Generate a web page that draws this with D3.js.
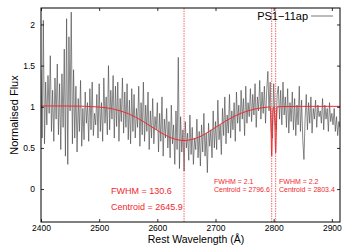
<!DOCTYPE html>
<html>
<head>
<meta charset="utf-8">
<script src="https://cdn.jsdelivr.net/npm/d3@7"></script>
<style>
  body { margin: 0; background: #fff; }
  text { font-family: "Liberation Sans", Arial, sans-serif; }
</style>
</head>
<body>
<div id="chart"></div>
<script>
(function(d3) {
  'use strict';

  // spectrum: flux sampled every 2 A starting at 2400 A
  var waveStart = 2400;
  var waveStep = 2;
  var flux = [
    1.45, 0.62, 2.05, 0.55, 1.30, 0.78, 1.38, 0.92, 1.62, 0.70,
    1.20, 0.58, 1.35, 0.85, 1.52, 0.66, 1.28, 0.48, 1.40, 0.75,
    1.70, 0.40, 2.07, 0.30, 1.85, 0.95, 2.15, 0.55, 1.45, 0.62,
    1.25, 0.45, 1.10, 0.70, 1.32, 0.52, 0.98, 0.60, 1.18, 0.80,
    1.05, 0.58, 1.22, 0.72, 1.30, 0.65, 0.92, 0.78, 1.15, 0.62,
    1.28, 0.70, 1.05, 0.58, 1.35, 0.80, 1.12, 0.66, 1.50, 0.72,
    1.20, 0.85, 1.38, 0.62, 1.25, 0.76, 1.30, 0.58, 1.10, 0.82,
    1.35, 0.68, 1.18, 0.75, 1.28, 0.60, 1.08, 0.55, 1.22, 0.70,
    1.15, 0.62, 0.98, 0.75, 1.25, 0.52, 1.05, 0.66, 1.30, 0.58,
    1.02, 0.70, 1.18, 0.48, 0.95, 0.62, 1.10, 0.55, 0.88, 0.72,
    1.05, 0.45, 0.92, 0.58, 1.12, 0.40, 0.85, 0.62, 0.98, 0.50,
    0.82, 0.38, 1.02, 0.55, 0.78, 0.30, 0.95, 0.48, 1.60, 0.25,
    0.88, 0.45, 0.72, 0.22, 0.82, 0.50, 0.68, 0.35, 0.90, 0.42,
    0.75, 0.30, 0.62, 0.48, 0.85, 0.38, 0.70, 0.28, 0.78, 0.45,
    0.92, 0.40, 0.68, 0.20, 0.80, 0.52, 0.72, 0.38, 0.95, 0.50,
    0.82, 0.48, 1.08, 0.60, 0.78, 0.42, 0.98, 0.65, 1.12, 0.55,
    0.90, 0.68, 1.15, 0.62, 0.95, 0.72, 1.05, 0.58, 1.18, 0.80,
    1.02, 0.70, 1.20, 0.85, 1.10, 0.65, 1.25, 0.80, 1.05, 0.88,
    1.22, 0.82, 1.15, 0.90, 1.28, 0.75, 1.12, 0.95, 1.32, 0.85,
    1.18, 0.92, 1.25, 0.80, 1.20, 1.43, 0.95, 1.30, 0.70, 0.62,
    1.28, 0.88, 0.72, 1.15, 1.25, 0.85, 1.20, 0.78, 1.30, 0.90,
    1.12, 0.75, 1.22, 0.68, 1.05, 0.82, 1.18, 0.72, 1.10, 0.65,
    1.02, 0.78, 1.25, 0.70, 1.08, 0.60, 0.36, 0.85, 1.15, 0.72,
    1.05, 0.80, 1.12, 0.68, 0.98, 0.85, 1.08, 0.75, 1.02, 0.88,
    0.95, 0.80, 1.10, 0.72, 1.02, 0.85, 0.98, 0.70, 1.05, 0.82,
    0.92, 0.78, 0.98, 0.70, 0.88, 0.65, 0.82, 0.75
  ];

  // fitted model
  var modelWave = [2400, 2450, 2500, 2525, 2550, 2575, 2600, 2625, 2646, 2670,
    2695, 2720, 2745, 2770, 2790, 2794, 2795.5, 2796.6, 2797.7, 2799, 2800,
    2801.5, 2802.2, 2803.4, 2804.6, 2806, 2850, 2914];
  var modelFlux = [1.01, 1.009, 0.997, 0.971, 0.916, 0.825, 0.712, 0.619, 0.59, 0.627,
    0.726, 0.838, 0.924, 0.976, 0.996, 1.0, 0.72, 0.40, 0.72, 0.98, 1.0,
    0.92, 0.72, 0.44, 0.72, 1.0, 1.005, 1.005];

  var lineCentres = [2645.9, 2796.6, 2803.4];
  var fitLabels = [
    ['FWHM = 130.6', 'Centroid = 2645.9'],
    ['FWHM = 2.1', 'Centroid = 2796.6'],
    ['FWHM = 2.2', 'Centroid = 2803.4']
  ];
  var xTicks = [2400, 2500, 2600, 2700, 2800, 2900];
  var yTicks = [0, 0.5, 1, 1.5, 2];
  var seriesName = 'PS1\u221211ap';

  var width = 350;
  var height = 245;
  var margin = {top: 8, right: 10, bottom: 23, left: 41};
  var w = width - margin.left - margin.right;
  var h = height - margin.top - margin.bottom;
  var red = '#f0282d';

  var x = d3.scaleLinear().domain([2400, 2914]).range([0, w]);
  var y = d3.scaleLinear().domain([-0.4, 2.2]).range([h, 0]);

  var svg = d3.select('#chart')
    .append('svg')
    .attr('width', width)
    .attr('height', height)
    .append('g')
    .attr('transform', 'translate(' + margin.left + ',' + margin.top + ')');

  svg.append('clipPath').attr('id', 'clip')
    .append('rect').attr('width', w).attr('height', h);

  var spec = flux.map(function(f, i) {
    return {w: waveStart + i * waveStep, f: f};
  });

  var line = d3.line()
    .x(function(d) { return x(d.w); })
    .y(function(d) { return y(d.f); });

  svg.append('path')
    .datum(spec)
    .attr('clip-path', 'url(#clip)')
    .attr('fill', 'none')
    .attr('stroke', '#4a4a4a')
    .attr('stroke-width', 0.65)
    .attr('d', line);

  // vertical markers at the fitted centroids
  svg.selectAll('.centre')
    .data(lineCentres)
    .enter()
    .append('line')
    .attr('class', 'centre')
    .attr('x1', function(d) { return x(d); })
    .attr('x2', function(d) { return x(d); })
    .attr('y1', 0)
    .attr('y2', h)
    .attr('stroke', red)
    .attr('stroke-opacity', 0.7)
    .attr('stroke-width', 1)
    .attr('stroke-dasharray', '1.5,1');

  var model = modelWave.map(function(d, i) { return {w: d, f: modelFlux[i]}; });
  svg.append('path')
    .datum(model)
    .attr('clip-path', 'url(#clip)')
    .attr('fill', 'none')
    .attr('stroke', red)
    .attr('stroke-width', 1)
    .attr('d', line.curve(d3.curveMonotoneX));

  // axes, gnuplot style: inward ticks mirrored on all sides
  var fmt = function(d) { return d; };
  svg.append('g')
    .attr('transform', 'translate(0,' + h + ')')
    .call(d3.axisBottom(x).tickValues(xTicks).tickFormat(fmt).tickSizeInner(-3).tickSizeOuter(0).tickPadding(3));
  svg.append('g')
    .call(d3.axisTop(x).tickValues(xTicks).tickFormat('').tickSizeInner(-3).tickSizeOuter(0));
  svg.append('g')
    .call(d3.axisLeft(y).tickValues(yTicks).tickFormat(fmt).tickSizeInner(-3).tickSizeOuter(0).tickPadding(6));
  svg.append('g')
    .attr('transform', 'translate(' + w + ',0)')
    .call(d3.axisRight(y).tickValues(yTicks).tickFormat('').tickSizeInner(-3).tickSizeOuter(0));

  svg.selectAll('.domain').remove();
  svg.selectAll('.tick text').attr('font-size', 8.5).attr('fill', '#000')
    .attr('font-family', '"Liberation Sans", Arial, sans-serif');
  svg.selectAll('.tick line').attr('stroke', '#000').attr('stroke-width', 0.8);

  svg.append('rect')
    .attr('width', w)
    .attr('height', h)
    .attr('fill', 'none')
    .attr('stroke', '#000')
    .attr('stroke-width', 1);

  svg.append('text')
    .attr('x', 155)
    .attr('y', h + 20.5)
    .attr('text-anchor', 'middle')
    .attr('font-size', 10.5)
    .text('Rest Wavelength (\u00c5)');

  svg.append('text')
    .attr('transform', 'translate(' + (-23) + ',' + (h / 2) + ') rotate(-90)')
    .attr('text-anchor', 'middle')
    .attr('font-size', 11)
    .text('Normalised Flux');

  // legend
  svg.append('text')
    .attr('x', 267)
    .attr('y', 12)
    .attr('text-anchor', 'end')
    .attr('font-size', 11)
    .text(seriesName);
  svg.append('line')
    .attr('x1', 270).attr('x2', 292)
    .attr('y1', 8).attr('y2', 8)
    .attr('stroke', '#555')
    .attr('stroke-width', 0.8);

  // fit annotations
  var labelPos = [
    {x: 70, y: 185.5, size: 9, gap: 16},
    {x: 173, y: 175.5, size: 7, gap: 8.3},
    {x: 238, y: 175.5, size: 7, gap: 8.3}
  ];
  fitLabels.forEach(function(lbl, i) {
    var p = labelPos[i];
    lbl.forEach(function(t, j) {
      svg.append('text')
        .attr('x', p.x)
        .attr('y', p.y + j * p.gap)
        .attr('font-size', p.size)
        .attr('fill', red)
        .text(t);
    });
  });

})(window.d3);
</script>
</body>
</html>
